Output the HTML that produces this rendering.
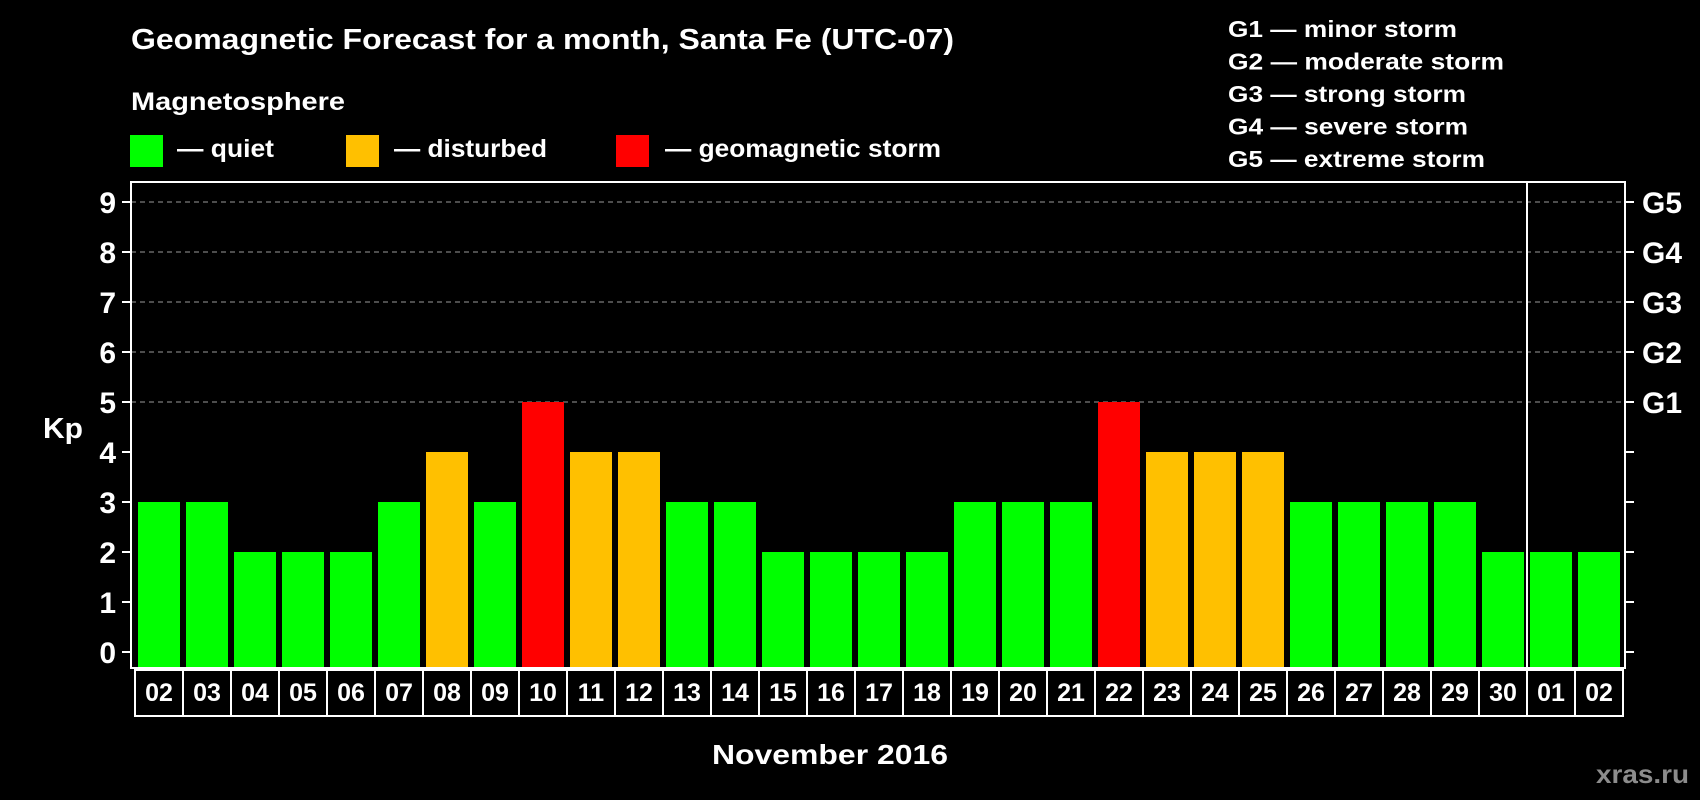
<!DOCTYPE html>
<html><head><meta charset="utf-8"><style>
html,body{margin:0;padding:0;background:#000;}
svg{display:block;font-family:"Liberation Sans",Arial,sans-serif;font-weight:bold;}
</style></head><body>
<svg id="chart" width="1700" height="800" viewBox="0 0 1700 800">
<rect x="0" y="0" width="1700" height="800" fill="#000"/>
<text x="131" y="49" fill="#fff" font-size="29" textLength="823" lengthAdjust="spacingAndGlyphs">Geomagnetic Forecast for a month, Santa Fe (UTC-07)</text>
<text x="131" y="110" fill="#fff" font-size="25" textLength="214" lengthAdjust="spacingAndGlyphs">Magnetosphere</text>
<g>
<rect x="130" y="135" width="33" height="32" fill="#00ff00"/>
<text x="177" y="157" fill="#fff" font-size="25" textLength="97" lengthAdjust="spacingAndGlyphs">— quiet</text></g>
<g>
<rect x="346" y="135" width="33" height="32" fill="#ffc000"/>
<text x="394" y="157" fill="#fff" font-size="25" textLength="153" lengthAdjust="spacingAndGlyphs">— disturbed</text></g>
<g>
<rect x="616" y="135" width="33" height="32" fill="#ff0000"/>
<text x="665" y="157" fill="#fff" font-size="25" textLength="276" lengthAdjust="spacingAndGlyphs">— geomagnetic storm</text></g>
<g fill="#fff" font-size="23">
<text x="1228" y="37" textLength="229" lengthAdjust="spacingAndGlyphs">G1 — minor storm</text>
<text x="1228" y="69.5" textLength="276" lengthAdjust="spacingAndGlyphs">G2 — moderate storm</text>
<text x="1228" y="102" textLength="238" lengthAdjust="spacingAndGlyphs">G3 — strong storm</text>
<text x="1228" y="134.5" textLength="240" lengthAdjust="spacingAndGlyphs">G4 — severe storm</text>
<text x="1228" y="167" textLength="257" lengthAdjust="spacingAndGlyphs">G5 — extreme storm</text>
</g>
<text x="43" y="438" fill="#fff" font-size="29" textLength="40" lengthAdjust="spacingAndGlyphs">Kp</text>
<g id="grid"></g>
<g id="bars"></g>
<rect x="131" y="182" width="1494" height="486" fill="none" stroke="#fff" stroke-width="2"/>
<line x1="1527" y1="182" x2="1527" y2="668" stroke="#fff" stroke-width="2"/>
<g id="axes"></g>
<g id="xlabels"></g>
<text x="712" y="764" fill="#fff" font-size="28" textLength="236" lengthAdjust="spacingAndGlyphs">November 2016</text>
<text x="1596" y="783" fill="#8c8c8c" font-size="26" textLength="93" lengthAdjust="spacingAndGlyphs">xras.ru</text>
</svg>
<script>
const days = ["02","03","04","05","06","07","08","09","10","11","12","13","14","15","16","17","18","19","20","21","22","23","24","25","26","27","28","29","30","01","02"];
const kpValues = [3,3,2,2,2,3,4,3,5,4,4,3,3,2,2,2,2,3,3,3,5,4,4,4,3,3,3,3,2,2,2];
const yTicks = [0,1,2,3,4,5,6,7,8,9];
const gLabels = ["G1","G2","G3","G4","G5"];
const NS="http://www.w3.org/2000/svg";
function yScale(v){return 652 - v*50;}
function xScale(i){return 138 + i*48;}
function mk(tag,attrs,parent){const e=document.createElementNS(NS,tag);for(const k in attrs)e.setAttribute(k,attrs[k]);parent.appendChild(e);return e;}
const grid=document.getElementById('grid'),bars=document.getElementById('bars'),axes=document.getElementById('axes'),xl=document.getElementById('xlabels');
yTicks.forEach(v=>{
  const y=yScale(v);
  if(v>=5){const g=mk('line',{x1:131,x2:1625,y1:y,y2:y,stroke:'#9a9a9a','stroke-width':1,'stroke-dasharray':'5,4'},grid);
    
    }
  const tl=mk('line',{x1:122,x2:131,y1:y,y2:y,stroke:'#fff','stroke-width':2},axes);
  
  
  const tr=mk('line',{x1:1625,x2:1634,y1:y,y2:y,stroke:'#fff','stroke-width':2},axes);
  
  
  const t=mk('text',{x:116,y:y+11,fill:'#fff','font-size':30,'text-anchor':'end'},axes);
  t.textContent=v;
  
  
});
gLabels.forEach((g,i)=>{
  const y=yScale(5+i);
  const t=mk('text',{x:1642,y:y+11,fill:'#fff','font-size':30,textLength:40,lengthAdjust:'spacingAndGlyphs'},axes);
  t.textContent=g;
  
  
});
kpValues.forEach((v,i)=>{
  const col=v>=5?'#ff0000':(v>=4?'#ffc000':'#00ff00');
  const y=yScale(v);
  const r=mk('rect',{x:xScale(i),y:y,width:42,height:667-y,fill:col},bars);
  
  
});
const box=mk('rect',{x:135,y:670,width:48*days.length,height:46,fill:'none',stroke:'#fff','stroke-width':2},xl);


days.forEach((d,i)=>{
  const x0=135+i*48;
  if(i>0){const l=mk('line',{x1:x0,x2:x0,y1:670,y2:716,stroke:'#fff','stroke-width':2},xl);
    
    }
  const t=mk('text',{x:x0+24,y:701,fill:'#fff','font-size':25,'text-anchor':'middle'},xl);
  t.textContent=d;
  
  
});
</script>
</body></html>
